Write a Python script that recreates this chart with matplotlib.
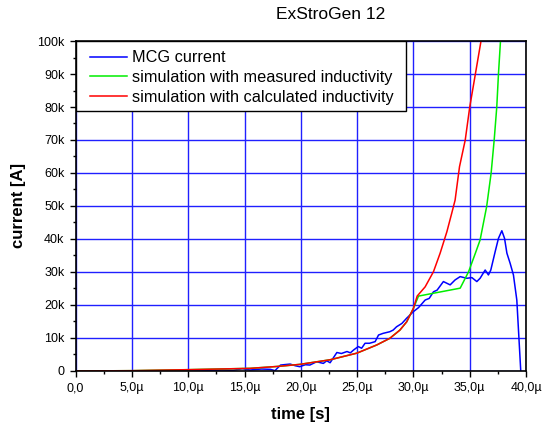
import matplotlib
matplotlib.use("Agg")
import matplotlib.pyplot as plt
from matplotlib.patches import Rectangle
from matplotlib.ticker import MultipleLocator, FuncFormatter

plt.rcParams["font.family"] = ["Liberation Sans", "DejaVu Sans"]

# time in microseconds, current in kA
t_mcg = [0, 5, 10, 12, 13, 14, 14.8, 15.5, 16.5, 17.3, 17.7, 18.2, 19.05, 19.5, 19.9, 20.4,
         20.8, 21.4, 22.0, 22.3, 22.6, 23.2, 23.6, 24.1, 24.4, 24.7, 25.1, 25.4, 25.7, 26.1,
         26.6, 26.9, 27.3, 27.9, 28.2, 28.5, 28.97, 29.4, 30.0, 30.45, 31.04, 31.4, 31.78,
         32.1, 32.66, 33.26, 33.7, 34.15, 34.74, 35.19, 35.63, 35.92, 36.37, 36.66, 36.87,
         37.26, 37.55, 37.85, 38.09, 38.3, 38.59, 38.88, 39.18, 39.53]
i_mcg = [0, 0, 0, 0.1, 0.3, 0.2, 0.7, 0.3, 0.6, 0.5, 0.1, 1.8, 2.1, 1.6, 1.3, 1.9,
         1.8, 2.8, 2.3, 3.1, 2.5, 5.6, 5.3, 5.9, 5.5, 6.4, 7.4, 6.9, 8.4, 8.4,
         8.9, 10.9, 11.4, 11.9, 12.4, 13.4, 14.4, 16.0, 18.0, 19.2, 21.5, 22.0, 24.0,
         24.5, 27.1, 26.1, 27.6, 28.6, 28.1, 28.3, 27.1, 28.1, 30.6, 29.1, 30.6,
         36.2, 40.2, 42.5, 40.2, 35.7, 32.6, 29.1, 21.5, 0]

t_meas = [0, 5, 10, 15.5, 18, 19.9, 22.6, 24.97, 26.75, 27.9, 28.8, 29.4, 30.0, 30.45,
          34.15, 34.9, 35.5, 35.92, 36.5, 36.9, 37.17, 37.4, 37.55, 37.73]
i_meas = [0, 0.1, 0.4, 0.8, 1.4, 2.0, 3.4, 5.4, 7.9, 9.9, 12.4, 14.9, 19.0, 22.7,
          25.1, 30.1, 35.7, 39.7, 49.8, 60, 70, 80, 90, 100]

t_calc = [0, 5, 10, 15.5, 18, 19.9, 22.6, 24.97, 26.75, 27.9, 28.8, 29.4, 30.0, 30.33,
          31.04, 31.78, 32.37, 32.97, 33.4, 33.7, 34.09, 34.6, 35.0, 35.5, 36.0]
i_calc = [0, 0.1, 0.4, 0.8, 1.4, 2.0, 3.4, 5.4, 7.9, 9.9, 12.4, 14.9, 19.0, 22.7,
          25.5, 30.1, 35.7, 42.2, 47.8, 51.8, 61.9, 70, 80, 90, 100]

fig = plt.figure(figsize=(5.44, 4.28), dpi=100)
ax = fig.add_axes([0.139, 0.1332, 0.828, 0.7710])

ax.plot(t_mcg, i_mcg, color="#0000ff", lw=1.1, label="MCG current")
ax.plot(t_meas, i_meas, color="#00ee00", lw=1.1, label="simulation with measured inductivity")
ax.plot(t_calc, i_calc, color="#ff0000", lw=1.1, label="simulation with calculated inductivity")

ax.set_xlim(0, 40)
ax.set_ylim(0, 100)
ax.xaxis.set_major_locator(MultipleLocator(5))
ax.xaxis.set_minor_locator(MultipleLocator(2.5))
ax.yaxis.set_major_locator(MultipleLocator(10))
ax.yaxis.set_minor_locator(MultipleLocator(5))
ax.xaxis.set_major_formatter(FuncFormatter(
    lambda v, p: "0,0" if v == 0 else f"{v:.1f}".replace(".", ",") + "\u00b5"))
ax.yaxis.set_major_formatter(FuncFormatter(
    lambda v, p: "0" if v == 0 else f"{int(round(v))}k"))
ax.tick_params(which="both", direction="out", labelsize=9, width=1)
ax.tick_params(which="major", length=4.5)
ax.tick_params(which="minor", length=2.5)
ax.grid(True, which="major", color="#2020ff", lw=1.0)
ax.set_axisbelow(True)
for s in ax.spines.values():
    s.set_linewidth(1.2)
    s.set_zorder(6)

ax.set_xlabel("time [s]", fontsize=12, fontweight="bold", labelpad=9)
ax.set_ylabel("current [A]", fontsize=12, fontweight="bold", labelpad=8)
fig.text(0.607, 0.967, "ExStroGen 12", fontsize=12.5, ha="center", va="center")

# legend box: drawn by hand so the side padding can be wider than the top one
ax.add_patch(Rectangle((0, 0.788), 0.7336, 0.212, transform=ax.transAxes,
                       facecolor="white", edgecolor="black", lw=1.0, zorder=4))
leg = ax.legend(loc="upper left", bbox_to_anchor=(0.0322, 0.972), borderaxespad=0,
                fontsize=11.7, frameon=False, handlelength=2.3, handletextpad=0.3,
                labelspacing=0.3, borderpad=0)
leg.set_zorder(5)

fig.savefig("out.png", dpi=100)
